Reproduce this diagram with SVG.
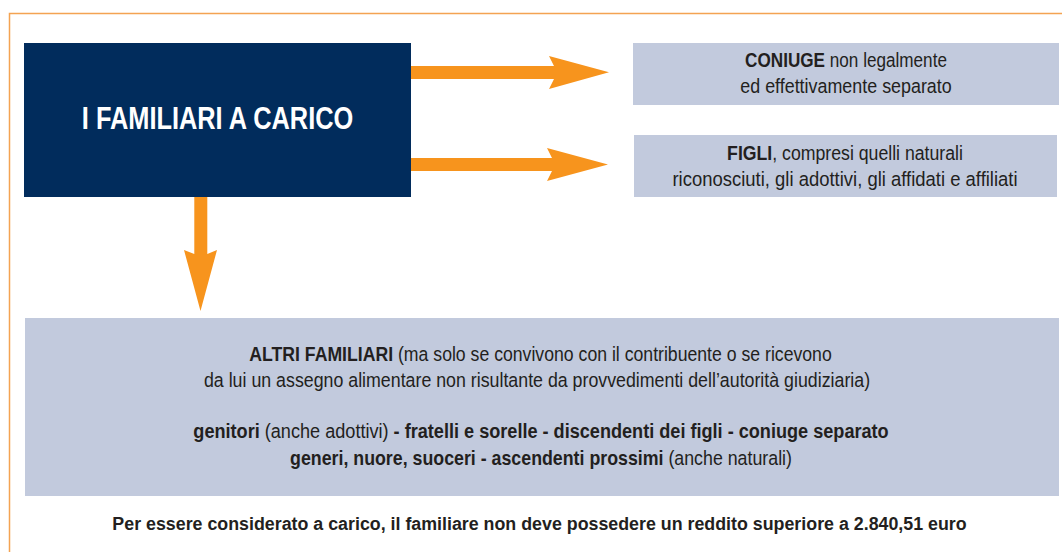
<svg xmlns="http://www.w3.org/2000/svg" width="1062" height="552" viewBox="0 0 1062 552">
  <style>
    .frame { fill: none; stroke: #f4a352; stroke-width: 1.5; }
    .main { fill: #012c5c; }
    .box { fill: #c2cadd; }
    .arrow { fill: #f7941d; }
    .title { font-family: "Liberation Sans", Arial, sans-serif; font-weight: bold; font-size: 32px; fill: #ffffff; text-anchor: middle; }
    .t { font-family: "Liberation Sans", Arial, sans-serif; font-size: 19.5px; fill: #231f20; text-anchor: middle; }
    .note { font-family: "Liberation Sans", Arial, sans-serif; font-size: 18.5px; font-weight: bold; fill: #231f20; text-anchor: middle; }
    .b { font-weight: bold; }
  </style>
  <rect x="0" y="0" width="1062" height="552" fill="#ffffff"/>
  <rect class="frame" x="9.5" y="13.5" width="1070" height="560"/>

  <g id="connectors">
    <polygon class="arrow" points="411,66 554,66 549,56 609,72.3 549,89 554,79 411,79"/>
    <polygon class="arrow" points="411,158 552,158 547,148 608,164.5 547,181 552,171 411,171"/>
    <polygon class="arrow" points="194.3,196 207.3,196 207.3,254 217,250 200.5,311 184,250 194.3,254"/>
  </g>

  <g id="node-main">
    <rect class="main" x="24" y="43" width="387" height="154"/>
    <text class="title" transform="translate(217.5,129.3) scale(0.793,1)" x="0" y="0">I FAMILIARI A CARICO</text>
  </g>

  <g id="node-coniuge">
    <rect class="box" x="633" y="43" width="426" height="62"/>
    <text class="t" transform="translate(846,67) scale(0.879,1)" x="0" y="0"><tspan class="b">CONIUGE</tspan> non legalmente</text>
    <text class="t" transform="translate(846,93) scale(0.918,1)" x="0" y="0">ed effettivamente separato</text>
  </g>

  <g id="node-figli">
    <rect class="box" x="634" y="135" width="423" height="62"/>
    <text class="t" transform="translate(845,159.5) scale(0.907,1)" x="0" y="0"><tspan class="b">FIGLI</tspan>, compresi quelli naturali</text>
    <text class="t" transform="translate(845,186) scale(0.947,1)" x="0" y="0">riconosciuti, gli adottivi, gli affidati e affiliati</text>
  </g>

  <g id="node-altri">
    <rect class="box" x="25" y="318" width="1034" height="178"/>
    <text class="t" transform="translate(540.5,361) scale(0.906,1)" x="0" y="0"><tspan class="b">ALTRI FAMILIARI</tspan> (ma solo se convivono con il contribuente o se ricevono</text>
    <text class="t" transform="translate(537,387) scale(0.912,1)" x="0" y="0">da lui un assegno alimentare non risultante da provvedimenti dell’autorità giudiziaria)</text>
    <text class="t" transform="translate(541,438) scale(0.929,1)" x="0" y="0"><tspan class="b">genitori</tspan> (anche adottivi) <tspan class="b">- fratelli e sorelle - discendenti dei figli - coniuge separato</tspan></text>
    <text class="t" transform="translate(541,464.5) scale(0.912,1)" x="0" y="0"><tspan class="b">generi, nuore, suoceri - ascendenti prossimi</tspan> (anche naturali)</text>
  </g>

  <g id="node-note">
    <text class="note" transform="translate(539.5,530) scale(0.963,1)" x="0" y="0">Per essere considerato a carico, il familiare non deve possedere un reddito superiore a 2.840,51 euro</text>
  </g>
</svg>
